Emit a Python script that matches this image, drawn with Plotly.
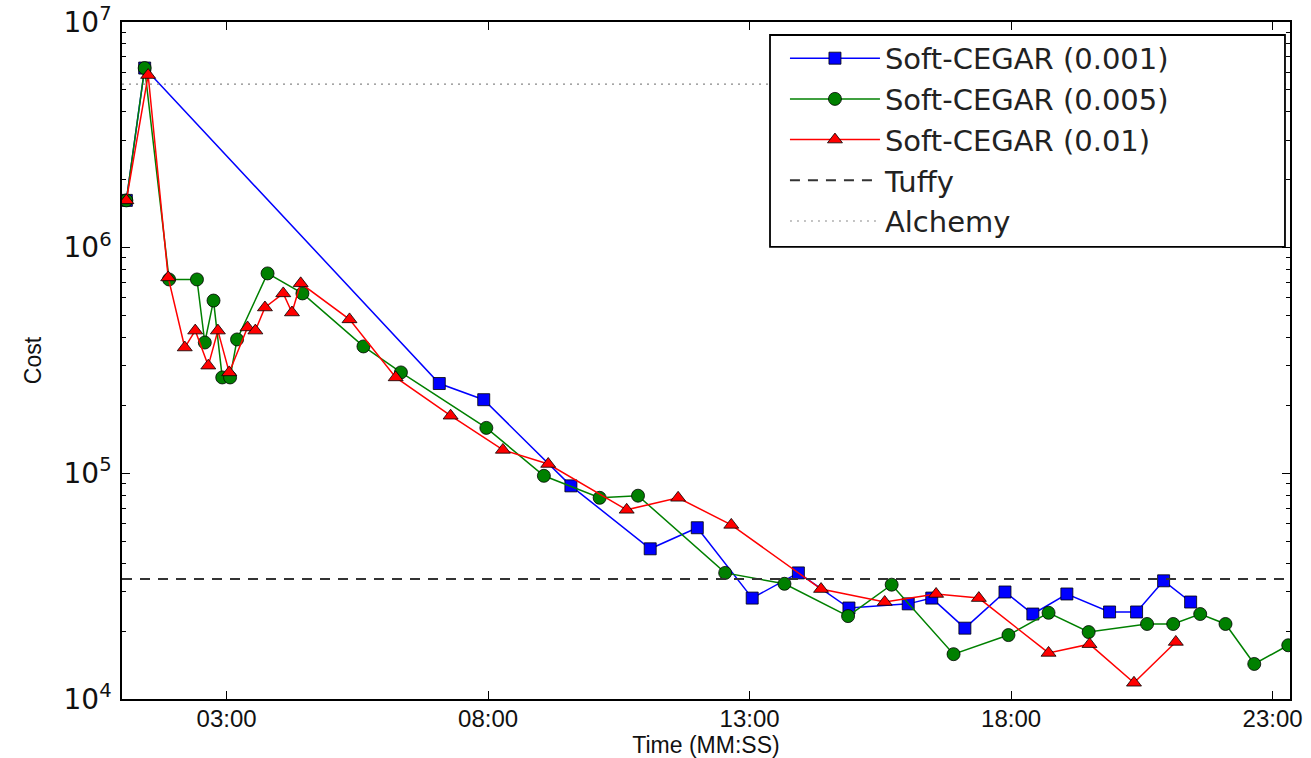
import plotly.graph_objects as go

# ---- data (time in seconds, cost) ----
time_blue = [65, 86, 424, 475, 575, 666, 720, 783, 836, 894, 962, 989, 1027, 1073, 1105, 1144, 1193, 1224, 1255, 1286]
cost_blue = [1.62e6, 6.25e6, 2.50e5, 2.12e5, 8.8e4, 4.63e4, 5.74e4, 2.80e4, 3.62e4, 2.53e4, 2.64e4, 2.80e4,
             2.06e4, 2.98e4, 2.38e4, 2.92e4, 2.43e4, 2.43e4, 3.34e4, 2.69e4]

time_green = [65, 86, 114, 146, 155, 165, 175, 184, 192, 227, 267, 337, 380, 478, 544, 608, 652, 752, 820,
              893, 943, 1014, 1077, 1123, 1169, 1236, 1266, 1297, 1326, 1359, 1398]
cost_green = [1.62e6, 6.25e6, 7.23e5, 7.23e5, 3.80e5, 5.83e5, 2.66e5, 2.66e5, 3.92e5, 7.69e5, 6.27e5, 3.65e5,
              2.80e5, 1.59e5, 9.75e4, 7.79e4, 7.96e4, 3.62e4, 3.24e4, 2.33e4, 3.21e4, 1.58e4, 1.92e4, 2.41e4,
              1.98e4, 2.15e4, 2.15e4, 2.38e4, 2.15e4, 1.43e4, 1.73e4]

time_red = [65, 90, 113, 132, 144, 159, 170, 183, 204, 213, 224, 245, 255, 265, 321, 374, 437, 497, 549, 639,
            698, 759, 862, 935, 994, 1043, 1123, 1170, 1221, 1269]
cost_red = [1.62e6, 5.82e6, 7.38e5, 3.61e5, 4.29e5, 3.00e5, 4.29e5, 2.80e5, 4.43e5, 4.29e5, 5.43e5, 6.27e5,
            5.16e5, 6.95e5, 4.81e5, 2.66e5, 1.80e5, 1.27e5, 1.10e5, 6.89e4, 7.79e4, 5.91e4, 3.07e4, 2.69e4,
            2.92e4, 2.80e4, 1.60e4, 1.75e4, 1.18e4, 1.79e4]

tuffy_cost = 3.4e4
alchemy_cost = 5.3e6

x_range = [60, 1400]
x_tick_vals = [180, 480, 780, 1080, 1380]
x_tick_text = ["%02d:%02d" % (v // 60, v % 60) for v in x_tick_vals]
y_tick_exps = [4, 5, 6, 7]

fig = go.Figure()

outline = dict(color="black", width=0.8)
fig.add_trace(go.Scatter(x=time_blue, y=cost_blue, mode="lines+markers", name="Soft-CEGAR (0.001)",
                         line=dict(color="#0000ff", width=1.5),
                         marker=dict(symbol="square", size=12, color="#0000ff", line=outline)))
fig.add_trace(go.Scatter(x=time_green, y=cost_green, mode="lines+markers", name="Soft-CEGAR (0.005)",
                         line=dict(color="#008000", width=1.5),
                         marker=dict(symbol="circle", size=13, color="#008000", line=outline)))
fig.add_trace(go.Scatter(x=time_red, y=cost_red, mode="lines+markers", name="Soft-CEGAR (0.01)",
                         line=dict(color="#ff0000", width=1.5),
                         marker=dict(symbol="triangle-up", size=13, color="#ff0000", line=outline)))
fig.add_trace(go.Scatter(x=x_range, y=[tuffy_cost] * 2, mode="lines", name="Tuffy",
                         line=dict(color="#333333", width=2, dash="10px,8px")))
fig.add_trace(go.Scatter(x=x_range, y=[alchemy_cost] * 2, mode="lines", name="Alchemy",
                         line=dict(color="#888888", width=1.2, dash="2px,5px")))

axis_common = dict(showline=True, linecolor="black", linewidth=1.5, mirror="allticks", automargin=False,
                   ticks="inside", ticklen=8, tickcolor="black", showgrid=False, zeroline=False)

fig.update_xaxes(range=x_range, tickvals=x_tick_vals, ticktext=x_tick_text,
                 title=dict(text="Time (MM:SS)", font=dict(family="Liberation Sans", size=23, color="#111"),
                            standoff=2),
                 tickfont=dict(family="Liberation Sans", size=24, color="#111"), ticklabelstandoff=-3,
                 **axis_common)
fig.update_yaxes(type="log", range=[4, 7], tickvals=[10 ** e for e in y_tick_exps],
                 ticktext=["10<sup>%d</sup>" % e for e in y_tick_exps],
                 tickfont=dict(family="DejaVu Sans", size=28, color="#111"), ticklabelstandoff=3,
                 title=dict(text="Cost", font=dict(family="Liberation Sans", size=23, color="#111"),
                            standoff=15),
                 minor=dict(ticks="inside", ticklen=4, tickcolor="black", dtick="D1", showgrid=False),
                 **axis_common)

# legend frame (drawn as a paper-anchored box behind the transparent legend)
fig.add_shape(type="rect", xref="paper", yref="paper", x0=0.5548, x1=0.9957, y0=0.6677, y1=0.9808,
              fillcolor="white", line=dict(color="black", width=1.8), layer="above")

fig.update_layout(
    width=1311, height=758,
    margin=dict(l=122, r=21, t=22, b=59, autoexpand=False),
    paper_bgcolor="white", plot_bgcolor="white",
    legend=dict(x=0.5676, y=0.984, xanchor="left", yanchor="top",
                bgcolor="rgba(0,0,0,0)", borderwidth=0,
                font=dict(family="DejaVu Sans", size=29, color="#222"),
                itemwidth=90, tracegroupgap=0),
    showlegend=True,
)

fig.write_html("out.html", config={"displayModeBar": False},
               post_script="document.body.style.margin='0';document.body.style.overflow='hidden';")
